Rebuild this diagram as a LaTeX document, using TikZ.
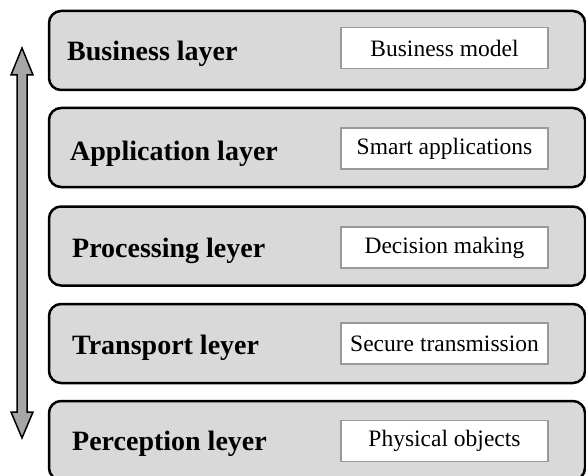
\documentclass[tikz,border=0pt]{standalone}
\usepackage{fontspec}
\setmainfont{Liberation Serif}
\definecolor{layerfill}{HTML}{D9D9D9}
\definecolor{innerdraw}{HTML}{999999}
\definecolor{arrowfill}{HTML}{A6A6A6}
\begin{document}
\begin{tikzpicture}[x=1pt,y=-1pt,
  layerbox/.style={draw=black, line width=2.5pt, fill=layerfill, rounded corners=12pt,
    minimum width=536pt, minimum height=79pt, inner sep=0pt, anchor=center},
  layerlabel/.style={anchor=west, inner sep=0pt, font=\fontsize{28}{30}\selectfont\bfseries},
  innerbox/.style={draw=innerdraw, line width=1.4pt, fill=white, minimum width=207pt,
    minimum height=41pt, inner sep=0pt, font=\fontsize{23.5}{26}\selectfont},
  updown/.style={draw=black, line width=1.5pt, fill=arrowfill, line join=miter}]
\clip (0,0) rectangle (586,476);
\fill[white] (0,0) rectangle (586,476);
% layers
\node[layerbox] (b1) at (317,50.5) {};
\node[layerbox] (b2) at (317,147.5) {};
\node[layerbox] (b3) at (317,246) {};
\node[layerbox] (b4) at (317,343.5) {};
\node[layerbox] (b5) at (317,440.5) {};
% labels
\node[layerlabel] (l1) at (67,54) {Business layer};
\node[layerlabel] (l2) at (70,154) {Application layer};
\node[layerlabel] (l3) at (72,251) {Processing leyer};
\node[layerlabel] (l4) at (72,348) {Transport leyer};
\node[layerlabel] (l5) at (72,444) {Perception leyer};
% inner boxes
\node[innerbox] (i1) at (444.5,48) {Business model};
\node[innerbox] (i2) at (444.5,148.5) {Smart applications};
\node[innerbox] (i3) at (444.5,247.5) {Decision making};
\node[innerbox] (i4) at (444.5,343.5) {Secure transmission};
\node[innerbox] (i5) at (444.5,441) {Physical objects};
% double arrow
\draw[updown] (22,48) -- (33,75) -- (27,75) -- (27,412) -- (33,412) -- (22,438)
  -- (11,412) -- (17,412) -- (17,75) -- (11,75) -- cycle;
\end{tikzpicture}
\end{document}
